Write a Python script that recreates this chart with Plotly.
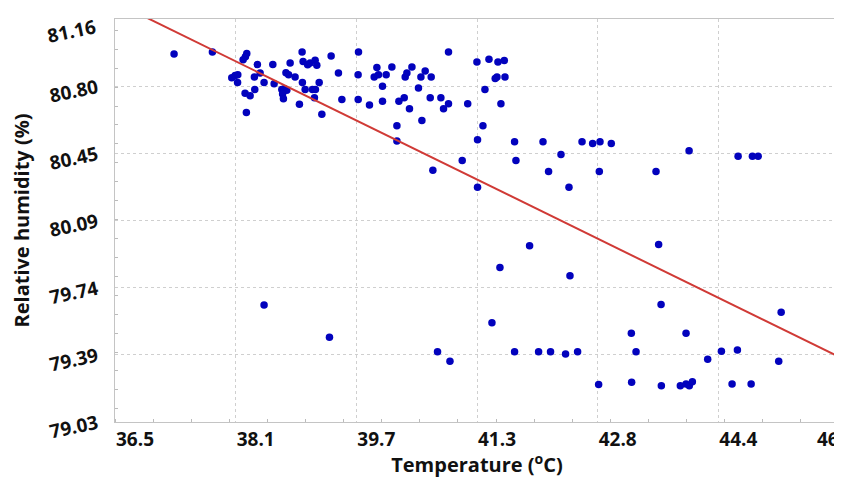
import plotly.graph_objects as go

# Scatter data: temperature (°C) vs relative humidity (%)
temperature = [
    37.275, 37.778, 38.229, 38.211, 38.181, 38.368, 38.571, 38.798, 38.955, 38.968,
    39.028, 39.060, 39.126, 39.148, 39.336, 39.695, 38.032, 38.076, 38.111, 38.108,
    38.329, 38.404, 38.456, 38.588, 38.743, 38.778, 38.863, 38.959, 39.179, 39.432,
    39.690, 38.995, 39.091, 39.130, 39.117, 38.207, 38.273, 38.334, 38.689, 38.723,
    38.754, 38.699, 38.710, 38.920, 39.477, 39.691, 38.224, 39.214,
    39.936, 39.901, 39.957, 40.058, 40.133, 40.010, 39.839, 40.010, 40.225, 40.295,
    40.308, 40.330, 40.396, 40.514, 40.570, 40.649, 40.482, 40.364, 40.636, 40.776,
    40.876, 40.876, 40.811, 40.527, 40.199, 40.199, 41.128, 41.249, 41.407, 41.525,
    41.608, 41.512, 41.489, 41.617, 41.354, 41.564, 41.328, 41.257, 41.743, 42.116,
    42.628, 42.767, 42.864, 43.012, 42.352, 41.056, 41.761, 40.671, 42.189, 42.855,
    41.257, 42.457, 44.033, 43.599, 44.676, 44.864, 44.939,
    38.456, 39.314, 41.940, 41.551, 42.470, 41.446, 40.732, 40.895, 41.743, 42.058,
    42.215, 42.412, 42.570, 42.846, 43.275, 43.337, 43.279, 43.633, 43.665, 43.993,
    43.669, 43.918, 43.993, 44.036, 44.076, 44.277, 44.457, 44.667, 44.597, 44.847,
    45.241, 45.209,
]
humidity = [
    80.975, 80.985, 80.977, 80.960, 80.944, 80.919, 80.919, 80.927, 80.985, 80.936,
    80.918, 80.928, 80.942, 80.915, 80.965, 80.985, 80.849, 80.862, 80.866, 80.824,
    80.853, 80.875, 80.824, 80.818, 80.876, 80.866, 80.853, 80.824, 80.824, 80.874,
    80.866, 80.787, 80.787, 80.787, 80.744, 80.767, 80.755, 80.787, 80.787, 80.792,
    80.783, 80.764, 80.738, 80.709, 80.734, 80.734, 80.666, 80.656,
    80.903, 80.853, 80.866, 80.866, 80.906, 80.804, 80.705, 80.725, 80.725, 80.744,
    80.853, 80.874, 80.906, 80.853, 80.885, 80.853, 80.795, 80.686, 80.744, 80.744,
    80.985, 80.712, 80.685, 80.624, 80.596, 80.515, 80.712, 80.933, 80.947, 80.933,
    80.940, 80.853, 80.845, 80.853, 80.787, 80.712, 80.596, 80.522, 80.511, 80.511,
    80.511, 80.502, 80.511, 80.502, 80.444, 80.412, 80.412, 80.361, 80.354, 80.354,
    80.271, 80.271, 80.464, 80.354, 80.434, 80.434, 80.434,
    79.649, 79.478, 79.961, 79.846, 79.803, 79.554, 79.401, 79.351, 79.401, 79.401,
    79.401, 79.390, 79.401, 79.228, 79.499, 79.401, 79.240, 79.968, 79.651, 79.499,
    79.222, 79.222, 79.231, 79.222, 79.243, 79.361, 79.404, 79.411, 79.231, 79.231,
    79.610, 79.351,
]

# Fitted trend line end points
trend_x = [36.5, 46.0]
trend_y = [81.249, 79.374]

# Axis ticks (edge labels drawn separately so they stay inside the page)
x_tickvals = [36.5, 38.0833, 39.6667, 41.25, 42.8333, 44.4167, 46.0]
x_ticktext = ["36.5", "38.1", "39.7", "41.3", "42.8", "44.4", " "]
x_last_label = "46"
y_tickvals = [79.03, 79.385, 79.74, 80.095, 80.45, 80.805, 81.16]
y_ticktext = ["79.03", "79.39", "79.74", "80.09", "80.45", "80.80", " "]
y_last_label = "81.16"

fig = go.Figure()
fig.add_trace(go.Scatter(
    x=temperature, y=humidity, mode="markers",
    marker=dict(color="#0202bd", size=7.5, line=dict(width=0)),
    showlegend=False, hoverinfo="x+y",
))
fig.add_trace(go.Scatter(
    x=trend_x, y=trend_y, mode="lines",
    line=dict(color="#d03a36", width=2),
    showlegend=False, hoverinfo="skip",
))

font_family = "Open Sans, Noto Sans, DejaVu Sans, sans-serif"
tickfont = dict(size=19, family=font_family, weight="bold", color="#111111")
titlefont = dict(size=20, family=font_family, weight="bold", color="#111111")
common = dict(showgrid=True, gridcolor="#cfcfcf", griddash="dot", gridwidth=1,
              showline=True, linecolor="#c4c4c4", linewidth=1, mirror=True,
              zeroline=False, ticks="", automargin=False, ticklabeloverflow="allow",
              minor=dict(ticks="inside", ticklen=3, tickcolor="#bbbbbb", nticks=5, showgrid=False))

# The page body adds an 8px margin, so the figure is sized to the remaining area.
fig.update_layout(
    width=834, height=470,
    margin=dict(l=107, r=3, t=11, b=56),
    paper_bgcolor="white", plot_bgcolor="white",
    font=dict(family=font_family, color="#111111"),
    xaxis=dict(
        range=[36.5, 46.0], tickmode="array", tickvals=x_tickvals, ticktext=x_ticktext,
        tickfont=tickfont, ticklabelshift=20, ticklabelstandoff=0,
        title=dict(text="Temperature (<sup>o</sup>C)", standoff=6, font=titlefont),
        **common,
    ),
    yaxis=dict(
        range=[79.03, 81.16], tickmode="array", tickvals=y_tickvals, ticktext=y_ticktext,
        tickangle=-12, tickfont=tickfont, ticklabelstandoff=13,
        title=dict(text="Relative humidity (%)", standoff=16, font=titlefont),
        **common,
    ),
    annotations=[
        dict(text=x_last_label, xref="paper", yref="paper", x=0.985, y=0,
             xanchor="center", yanchor="top", yshift=-2,
             showarrow=False, font=tickfont),
        dict(text=y_last_label, xref="paper", yref="paper", x=0, y=1,
             xanchor="right", yanchor="middle", xshift=-14, yshift=-12,
             textangle=-12, showarrow=False, font=tickfont),
    ],
)

fig.write_html("out.html")
